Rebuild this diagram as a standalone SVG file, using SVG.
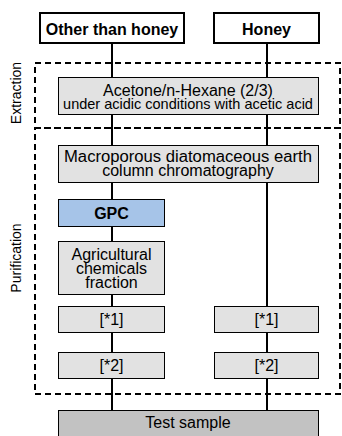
<svg xmlns="http://www.w3.org/2000/svg" width="342" height="436" viewBox="0 0 342 436">
<style>
text{font-family:"Liberation Sans",Arial,sans-serif;font-size:16px;fill:#000;text-anchor:middle}
.b{font-weight:bold}
.top{fill:#fff;stroke:#000;stroke-width:2}
.g{fill:#e2e2e2;stroke:#000;stroke-width:1}
.blue{fill:#a6c4e8;stroke:#000;stroke-width:1}
.dk{fill:#c2c2c2;stroke:#000;stroke-width:1}
.dash{fill:none;stroke:#000;stroke-width:2;stroke-dasharray:6 4}
.c line{stroke:#000;stroke-width:2}
.lbl{font-size:14px}
</style>
<rect id="extraction" class="dash" x="35" y="63" width="305" height="65"/>
<rect id="purification" class="dash" x="35" y="128" width="305" height="266"/>
<text class="lbl" transform="translate(21,93) rotate(-90)">Extraction</text>
<text class="lbl" transform="translate(21,258) rotate(-90)">Purification</text>
<g class="c" id="connectors">
<line x1="112" y1="43" x2="112" y2="77"/>
<line x1="112" y1="114" x2="112" y2="145"/>
<line x1="112" y1="183" x2="112" y2="199"/>
<line x1="112" y1="227" x2="112" y2="241"/>
<line x1="112" y1="294" x2="112" y2="306"/>
<line x1="112" y1="332" x2="112" y2="352"/>
<line x1="112" y1="379" x2="112" y2="410"/>
<line x1="267" y1="43" x2="267" y2="77"/>
<line x1="267" y1="114" x2="267" y2="145"/>
<line x1="267" y1="183" x2="267" y2="306"/>
<line x1="267" y1="332" x2="267" y2="352"/>
<line x1="267" y1="379" x2="267" y2="410"/>
</g>
<g id="other"><rect class="top" x="40" y="13" width="144" height="30"/><text class="b" x="112" y="34.5">Other than honey</text></g>
<g id="honey"><rect class="top" x="214" y="13" width="105" height="30"/><text class="b" x="266.5" y="34.5">Honey</text></g>
<g id="acetone"><rect class="g" x="58.5" y="77.5" width="260" height="37"/><text x="188" y="95.5">Acetone/n-Hexane (2/3)</text><text x="188" y="109" style="font-size:14.5px">under acidic conditions with acetic acid</text></g>
<g id="macro"><rect class="g" x="58.5" y="145.5" width="260" height="37"/><text x="188" y="161.5" textLength="248" lengthAdjust="spacingAndGlyphs">Macroporous diatomaceous earth</text><text x="188" y="175.5">column chromatography</text></g>
<g id="gpc"><rect class="blue" x="58.5" y="199.5" width="106" height="27"/><text class="b" x="111.5" y="219">GPC</text></g>
<g id="agri"><rect class="g" x="58.5" y="241.5" width="106" height="53"/><text x="111.5" y="260">Agricultural</text><text x="111.5" y="274">chemicals</text><text x="111.5" y="288">fraction</text></g>
<g id="l1"><rect class="g" x="58.5" y="306.5" width="106" height="26"/><text x="111.5" y="325">[*1]</text></g>
<g id="l2"><rect class="g" x="58.5" y="352.5" width="106" height="26"/><text x="111.5" y="371">[*2]</text></g>
<g id="r1"><rect class="g" x="214.5" y="306.5" width="104" height="26"/><text x="266.5" y="325">[*1]</text></g>
<g id="r2"><rect class="g" x="214.5" y="352.5" width="104" height="26"/><text x="266.5" y="371">[*2]</text></g>
<g id="test"><rect class="dk" x="58.5" y="410.5" width="260" height="26"/><text x="188" y="427.5">Test sample</text></g>
</svg>
